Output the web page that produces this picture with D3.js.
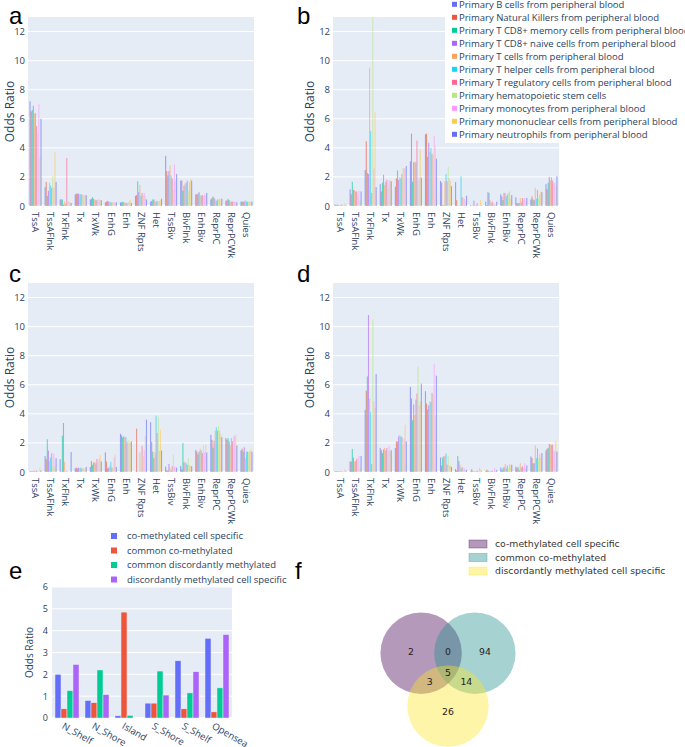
<!DOCTYPE html>
<html>
<head>
<meta charset="utf-8">
<script src="https://cdn.jsdelivr.net/npm/d3@7"></script>
<style>
  body { margin: 0; background: #fff; }
  svg { display: block; }
  text { font-family: "Open Sans", sans-serif; fill: #2a3f5f; }
</style>
</head>
<body>
<svg id="fig" width="685" height="747"></svg>
<script>
// chromatin states on the x axis of panels a-d
var states = ['TssA', 'TssAFlnk', 'TxFlnk', 'Tx', 'TxWk', 'EnhG', 'Enh', 'ZNF Rpts',
  'Het', 'TssBiv', 'BivFlnk', 'EnhBiv', 'ReprPC', 'ReprPCWk', 'Quies'];

var cellTypes = [
  'Primary B cells from peripheral blood',
  'Primary Natural Killers from peripheral blood',
  'Primary T CD8+ memory cells from peripheral blood',
  'Primary T CD8+ naive cells from peripheral blood',
  'Primary T cells from peripheral blood',
  'Primary T helper cells from peripheral blood',
  'Primary T regulatory cells from peripheral blood',
  'Primary hematopoietic stem cells',
  'Primary monocytes from peripheral blood',
  'Primary mononuclear cells from peripheral blood',
  'Primary neutrophils from peripheral blood'
];
var cellColors = ['#636efa', '#EF553B', '#00cc96', '#ab63fa', '#FFA15A', '#19d3f3',
  '#FF6692', '#B6E880', '#FF97FF', '#FECB52', '#636efa'];

// odds ratios, one row per state, one value per cell type
var panelA = [
  [7.2, 6.5, 6.6, 6.9, 6.35, 6.4, 5.5, 5.0, 7.0, 3.35, 6.0],
  [1.3, 1.65, 0.7, 1.05, 1.6, 1.4, 1.25, 2.05, 1.25, 3.7, 1.65],
  [0.45, 0.45, 0.45, 0.1, 0.3, 0.15, 3.3, 0.3, 0.3, 0.25, 0.2],
  [0.8, 0.85, 0.85, 0.85, 0.8, 0.8, 0.8, 0.75, 0.75, 0.75, 0.75],
  [0.45, 0.5, 0.6, 0.5, 0.45, 0.4, 0.4, 0.45, 0.45, 0.4, 0.4],
  [0.25, 0.3, 0.35, 0.3, 0.3, 0.25, 0.25, 0.25, 0.25, 0.25, 0.25],
  [0.25, 0.25, 0.3, 0.25, 0.25, 0.2, 0.2, 0.25, 0.3, 0.4, 0.2],
  [0.7, 0.75, 1.7, 0.95, 1.45, 0.7, 0.9, 0.75, 0.9, 0.7, 0.45],
  [0.3, 0.35, 0.45, 0.45, 0.35, 0.3, 0.35, 0.3, 0.35, 0.4, 0.5],
  [3.45, 2.4, 2.1, 2.4, 2.8, 2.1, 1.9, 1.05, 2.85, 1.75, 2.2],
  [1.75, 1.75, 1.05, 1.4, 1.55, 1.6, 1.75, 1.05, 1.65, 1.85, 1.75],
  [0.8, 0.8, 0.85, 0.95, 0.75, 0.7, 0.75, 0.7, 0.8, 0.7, 0.9],
  [0.45, 0.55, 0.65, 0.55, 0.45, 0.35, 0.45, 0.45, 0.5, 0.45, 0.5],
  [0.35, 0.4, 0.5, 0.4, 0.3, 0.3, 0.3, 0.3, 0.3, 0.3, 0.25],
  [0.3, 0.3, 0.3, 0.3, 0.4, 0.3, 0.3, 0.3, 0.3, 0.3, 0.3]
];
var panelB = [
  [0.1, 0.05, 0.1, 0.05, 0.05, 0.05, 0.1, 0.05, 0.1, 0.2, 0.05],
  [1.15, 0.8, 1.67, 1.1, 1.1, 1.0, 1.0, 0.65, 1.05, 0.35, 1.0],
  [2.47, 4.45, 2.28, 2.2, 9.5, 5.15, 0.9, 13.5, 2.6, 6.45, 1.3],
  [1.5, 1.0, 1.6, 2.15, 1.45, 1.65, 1.8, 1.25, 1.75, 1.75, 1.7],
  [1.32, 1.9, 2.45, 1.8, 2.0, 1.9, 2.2, 2.6, 2.6, 2.6, 2.75],
  [3.08, 4.98, 1.67, 3.0, 3.05, 3.0, 4.5, 1.7, 1.95, 3.9, 1.95],
  [4.93, 4.98, 3.38, 4.34, 3.7, 4.0, 3.55, 3.6, 4.8, 4.15, 3.25],
  [1.72, 1.6, 0.05, 0.05, 1.7, 2.2, 1.7, 2.7, 1.9, 1.75, 1.37],
  [1.65, 0.4, 0.02, 0.02, 0.05, 2.05, 0.6, 0.55, 0.5, 0.35, 0.7],
  [0.05, 0.02, 0.02, 0.37, 0.05, 0.05, 0.2, 0.05, 0.05, 0.4, 0.05],
  [0.3, 0.05, 0.95, 0.9, 0.4, 0.2, 0.3, 0.2, 0.15, 0.1, 0.3],
  [0.8, 0.65, 0.4, 0.9, 0.9, 0.65, 0.8, 0.9, 1.0, 0.5, 0.75],
  [0.6, 0.2, 0.2, 0.2, 0.55, 0.25, 0.55, 0.45, 0.55, 0.35, 0.55],
  [0.45, 0.65, 0.45, 0.4, 1.25, 0.5, 1.1, 0.55, 0.8, 1.0, 0.95],
  [1.5, 1.15, 1.6, 2.0, 1.75, 1.97, 1.75, 1.6, 1.6, 1.4, 2.05]
];
var panelC = [
  [0.05, 0.05, 0.05, 0.05, 0.1, 0.05, 0.1, 0.05, 0.05, 0.3, 0.1],
  [1.1, 0.88, 2.25, 1.47, 0.75, 1.0, 1.3, 0.4, 1.25, 0.35, 0.95],
  [0.88, 0.02, 2.5, 3.37, 0.7, 0.02, 0.07, 0.02, 0.02, 0.02, 1.37],
  [0.25, 0.3, 0.25, 0.3, 0.25, 0.3, 0.25, 0.25, 0.25, 0.25, 0.35],
  [0.35, 0.75, 0.5, 0.65, 0.7, 0.6, 0.9, 0.7, 0.9, 1.18, 0.72],
  [1.35, 0.72, 0.25, 0.3, 0.4, 0.7, 0.3, 0.3, 1.0, 1.18, 0.35],
  [2.63, 2.52, 2.38, 2.45, 2.4, 2.4, 2.05, 2.2, 2.0, 2.05, 2.1],
  [0.02, 2.98, 0.02, 0.02, 1.35, 0.02, 1.8, 1.1, 1.5, 2.5, 3.6],
  [3.42, 2.08, 1.4, 0.95, 1.35, 3.88, 2.68, 3.8, 1.45, 2.9, 1.47],
  [0.37, 0.12, 0.1, 0.55, 0.28, 0.1, 0.4, 1.22, 0.37, 0.35, 0.3],
  [0.42, 0.2, 2.0, 0.65, 0.7, 0.6, 0.5, 0.95, 0.45, 0.4, 0.4],
  [1.52, 1.4, 1.22, 1.4, 1.6, 1.47, 1.3, 1.82, 1.35, 1.9, 1.34],
  [2.56, 2.22, 1.68, 2.15, 2.84, 3.07, 2.84, 3.18, 2.84, 2.6, 2.4],
  [2.33, 2.22, 2.33, 2.1, 1.82, 2.33, 2.12, 2.45, 2.5, 2.56, 1.82],
  [1.48, 1.6, 1.4, 1.7, 0.95, 1.4, 1.4, 1.4, 1.4, 1.57, 1.4]
];
var panelD = [
  [0.05, 0.05, 0.05, 0.05, 0.05, 0.05, 0.05, 0.05, 0.05, 0.2, 0.05],
  [0.72, 0.72, 1.58, 1.0, 0.72, 0.75, 0.92, 0.85, 1.1, 0.28, 1.1],
  [4.28, 5.59, 6.57, 10.8, 5.03, 4.12, 0.55, 10.48, 4.87, 4.4, 6.73],
  [1.65, 1.5, 1.3, 1.55, 1.65, 1.5, 1.65, 1.35, 1.8, 1.45, 1.5],
  [1.65, 2.1, 2.1, 2.45, 2.55, 2.45, 2.4, 1.85, 2.3, 3.25, 2.1],
  [5.85, 5.05, 3.56, 4.65, 3.94, 4.98, 5.4, 7.25, 4.58, 4.87, 6.08],
  [5.56, 4.7, 4.3, 4.58, 4.87, 4.8, 5.44, 5.3, 7.45, 3.94, 6.63],
  [1.0, 0.45, 1.0, 1.08, 1.1, 1.27, 0.5, 1.12, 0.45, 0.45, 0.35],
  [0.2, 0.1, 1.1, 0.76, 0.5, 0.25, 0.35, 0.25, 0.25, 0.15, 0.15],
  [0.05, 0.2, 0.05, 0.05, 0.05, 0.05, 0.1, 0.05, 0.28, 0.2, 0.05],
  [0.05, 0.15, 0.1, 0.05, 0.05, 0.05, 0.1, 0.05, 0.25, 0.1, 0.15],
  [0.3, 0.15, 0.25, 0.35, 0.55, 0.25, 0.45, 0.25, 0.55, 0.45, 0.5],
  [0.37, 0.25, 0.35, 0.15, 0.6, 0.3, 0.4, 0.25, 0.6, 0.25, 0.45],
  [1.07, 0.97, 0.6, 0.6, 1.83, 0.95, 1.62, 0.95, 1.25, 1.0, 1.3],
  [1.48, 1.6, 1.64, 1.92, 1.92, 1.85, 1.88, 1.48, 1.42, 2.1, 1.4]
];
var stateTicks = [0, 2, 4, 6, 8, 10, 12];

// panel e: CpG island regions
var regions = ['N_Shelf', 'N_Shore', 'Island', 'S_Shore', 'S_Shelf', 'Opensea'];
var groups = ['co-methylated cell specific', 'common co-methylated',
  'common discordantly methylated', 'discordantly methylated cell specific'];
var groupColors = ['#636efa', '#EF553B', '#00cc96', '#ab63fa'];
var coMethCellSpecific = [2.0, 0.8, 0.1, 0.68, 2.62, 3.65];
var commonCoMeth = [0.42, 0.7, 4.85, 0.68, 0.42, 0.28];
var commonDiscordant = [1.25, 2.2, 0.12, 2.15, 1.15, 1.38];
var discordantCellSpecific = [2.45, 1.07, 0.0, 1.05, 2.12, 3.82];
var regionTicks = [0, 1, 2, 3, 4, 5, 6];

// panel f: venn diagram of the three sets
var vennSets = ['co-methylated cell specific', 'common co-methylated', 'discordantly methylated cell specific'];
var vennColors = ['#440154', '#21918c', '#fde725'];
var vennCenters = [[-0.66, -0.43], [0.66, -0.43], [0, 0.87]];
var vennCounts = [
  { label: '2', at: [-0.91, -0.47] },
  { label: '0', at: [0, -0.47] },
  { label: '94', at: [0.91, -0.47] },
  { label: '5', at: [0, 0.06] },
  { label: '3', at: [-0.45, 0.26] },
  { label: '14', at: [0.45, 0.26] },
  { label: '26', at: [0, 1.0] }
];

var svg = d3.select('#fig');

function statePanel(rows, box, id, titleGap) {
  var g = svg.append('g');
  var x0 = d3.scaleBand().domain(states).range([box.x, box.x + box.w])
    .paddingInner(0.2).paddingOuter(0.1);
  var x1 = d3.scaleBand().domain(d3.range(cellTypes.length)).range([0, x0.bandwidth()]);
  var y = d3.scaleLinear().domain([0, 13]).range([box.y + box.h, box.y]);

  g.append('rect').attr('x', box.x).attr('y', box.y).attr('width', box.w).attr('height', box.h)
    .attr('fill', '#E5ECF6');
  g.selectAll('.grid').data(stateTicks).enter().append('line')
    .attr('x1', box.x).attr('x2', box.x + box.w)
    .attr('y1', function(d) { return y(d); }).attr('y2', function(d) { return y(d); })
    .attr('stroke', '#fff').attr('stroke-width', function(d) { return d === 0 ? 2 : 1; });

  svg.append('clipPath').attr('id', id)
    .append('rect').attr('x', box.x).attr('y', box.y).attr('width', box.w).attr('height', box.h);

  var bars = g.append('g').attr('clip-path', 'url(#' + id + ')');
  rows.forEach(function(vals, i) {
    bars.selectAll('.b' + i).data(vals).enter().append('rect')
      .attr('x', function(d, j) { return x0(states[i]) + x1(j); })
      .attr('y', function(d) { return y(d); })
      .attr('width', x1.bandwidth())
      .attr('height', function(d) { return y(0) - y(d); })
      .attr('fill', function(d, j) { return cellColors[j]; })
      .attr('opacity', 0.6);
  });

  var ya = g.append('g').attr('transform', 'translate(' + box.x + ',0)')
    .call(d3.axisLeft(y).tickValues(stateTicks).tickSize(0).tickPadding(3));
  ya.select('.domain').remove();
  ya.selectAll('text').style('font-family', '"Open Sans"').style('font-size', '9.5px').style('fill', '#2a3f5f');

  g.selectAll('.xl').data(states).enter().append('text')
    .attr('transform', function(d) {
      return 'translate(' + (x0(d) + x0.bandwidth() / 2) + ',' + (box.y + box.h + 6) + ') rotate(90)';
    })
    .attr('dy', '0.35em')
    .style('font-size', '9.5px')
    .text(function(d) { return d; });

  g.append('text')
    .attr('transform', 'translate(' + (box.x - titleGap) + ',' + (box.y + box.h / 2) + ') rotate(-90)')
    .attr('text-anchor', 'middle')
    .style('font-size', '12px')
    .text('Odds Ratio');
}

statePanel(panelA, { x: 28, y: 17, w: 226, h: 189 }, 'clipA', 14.5);
statePanel(panelB, { x: 333, y: 17, w: 226, h: 189 }, 'clipB', 19);
statePanel(panelC, { x: 28, y: 283, w: 226, h: 189 }, 'clipC', 14.5);
statePanel(panelD, { x: 333, y: 283, w: 226, h: 189 }, 'clipD', 19);

// legend of panel b
var lg = svg.append('g');
lg.append('rect').attr('x', 445).attr('y', 0).attr('width', 240).attr('height', 143).attr('fill', '#fff');
var li = lg.selectAll('.li').data(cellTypes).enter().append('g')
  .attr('transform', function(d, i) { return 'translate(452,' + (4.3 + i * 13) + ')'; });
li.append('rect').attr('x', 0).attr('y', -2.5).attr('width', 5).attr('height', 5)
  .attr('fill', function(d, i) { return cellColors[i]; });
li.append('text').attr('x', 7).attr('dy', '0.35em').style('font-size', '9.5px')
  .text(function(d) { return d; });

// panel e
(function() {
  var box = { x: 52, y: 587, w: 180, h: 131 };
  var series = [coMethCellSpecific, commonCoMeth, commonDiscordant, discordantCellSpecific];
  var x0 = d3.scaleBand().domain(regions).range([box.x, box.x + box.w]).paddingInner(0.2).paddingOuter(0.1);
  var x1 = d3.scaleBand().domain(d3.range(groups.length)).range([0, x0.bandwidth()]);
  var y = d3.scaleLinear().domain([0, 6]).range([box.y + box.h, box.y]);
  var g = svg.append('g');
  g.append('rect').attr('x', box.x).attr('y', box.y).attr('width', box.w).attr('height', box.h)
    .attr('fill', '#E5ECF6');
  g.selectAll('.grid').data(regionTicks).enter().append('line')
    .attr('x1', box.x).attr('x2', box.x + box.w)
    .attr('y1', function(d) { return y(d); }).attr('y2', function(d) { return y(d); })
    .attr('stroke', '#fff').attr('stroke-width', function(d) { return d === 0 ? 2 : 1; });
  series.forEach(function(vals, k) {
    g.selectAll('.s' + k).data(vals).enter().append('rect')
      .attr('x', function(d, i) { return x0(regions[i]) + x1(k); })
      .attr('y', function(d) { return y(d); })
      .attr('width', x1.bandwidth())
      .attr('height', function(d) { return y(0) - y(d); })
      .attr('fill', groupColors[k])
      .attr('stroke', '#E5ECF6').attr('stroke-width', 0.5);
  });
  var ya = g.append('g').attr('transform', 'translate(' + box.x + ',0)')
    .call(d3.axisLeft(y).tickValues(regionTicks).tickFormat(d3.format('d')).tickSize(0).tickPadding(4));
  ya.select('.domain').remove();
  ya.selectAll('text').style('font-family', '"Open Sans"').style('font-size', '9px').style('fill', '#2a3f5f');
  g.selectAll('.xl').data(regions).enter().append('text')
    .attr('transform', function(d) {
      return 'translate(' + (x0(d) + x0.bandwidth() / 2 - 4) + ',' + (box.y + box.h + 7) + ') rotate(30)';
    })
    .attr('dy', '0.35em')
    .style('font-size', '9.5px')
    .text(function(d) { return d; });
  g.append('text')
    .attr('transform', 'translate(' + (box.x - 19) + ',' + (box.y + box.h / 2) + ') rotate(-90)')
    .attr('text-anchor', 'middle')
    .style('font-size', '10px')
    .text('Odds Ratio');

  var le = g.selectAll('.le').data(groups).enter().append('g')
    .attr('transform', function(d, i) { return 'translate(111,' + (536 + i * 14.5) + ')'; });
  le.append('rect').attr('x', 0).attr('y', -3).attr('width', 6).attr('height', 6)
    .attr('fill', function(d, i) { return groupColors[i]; });
  le.append('text').attr('x', 16).attr('dy', '0.35em').style('font-size', '9.5px')
    .text(function(d) { return d; });
})();

// panel f: venn
(function() {
  var cx = d3.scaleLinear().domain([0, 1]).range([448, 488.7]);
  var cy = d3.scaleLinear().domain([0, 1]).range([670.7, 711.4]);
  var r = cx(1) - cx(0);
  var g = svg.append('g');
  g.selectAll('circle').data(vennCenters).enter().append('circle')
    .attr('cx', function(d) { return cx(d[0]); })
    .attr('cy', function(d) { return cy(d[1]); })
    .attr('r', r)
    .attr('fill', function(d, i) { return vennColors[i]; })
    .attr('fill-opacity', 0.4);
  g.selectAll('.vl').data(vennCounts).enter().append('text')
    .attr('x', function(d) { return cx(d.at[0]); })
    .attr('y', function(d) { return cy(d.at[1]); })
    .attr('text-anchor', 'middle').attr('dy', '0.35em')
    .style('font-family', '"DejaVu Sans"').style('font-size', '9.3px').style('fill', '#222')
    .text(function(d) { return d.label; });

  var lf = g.selectAll('.lf').data(vennSets).enter().append('g')
    .attr('transform', function(d, i) { return 'translate(469,' + (544 + i * 13.5) + ')'; });
  lf.append('rect').attr('x', 0).attr('y', -4).attr('width', 18).attr('height', 8)
    .attr('fill', function(d, i) { return vennColors[i]; }).attr('fill-opacity', 0.4)
    .attr('stroke', function(d, i) { return vennColors[i]; }).attr('stroke-opacity', 0.4).attr('stroke-width', 0.8);
  lf.append('text').attr('x', 26).attr('dy', '0.35em')
    .style('font-family', '"DejaVu Sans"').style('font-size', '9.3px').style('fill', '#333')
    .text(function(d) { return d; });
})();

// panel letters
var letters = [['a', 9, 24], ['b', 297, 24], ['c', 9, 282], ['d', 297, 282], ['e', 9, 579], ['f', 295, 579]];
svg.selectAll('.letter').data(letters).enter().append('text')
  .attr('x', function(d) { return d[1]; }).attr('y', function(d) { return d[2]; })
  .style('font-family', '"Liberation Sans", sans-serif').style('font-size', '24px').style('fill', '#000')
  .text(function(d) { return d[0]; });
</script>
</body>
</html>
